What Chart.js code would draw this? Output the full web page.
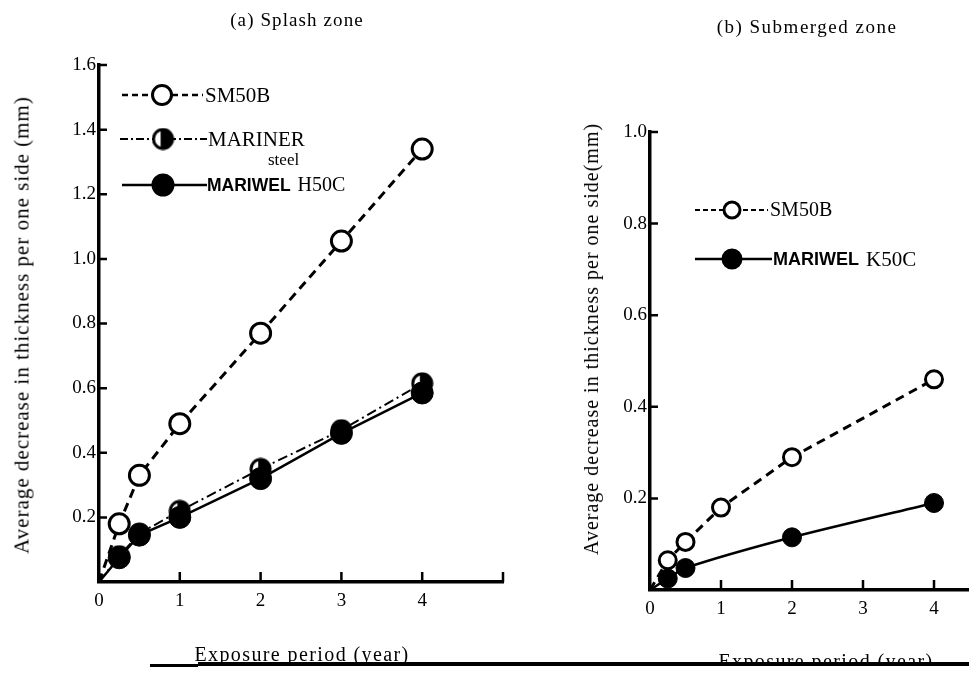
<!DOCTYPE html>
<html>
<head>
<meta charset="utf-8">
<script src="https://cdn.jsdelivr.net/npm/chart.js@4.4.1/dist/chart.umd.min.js"></script>
<style>
  body { margin: 0; background: #fff; width: 969px; height: 676px; position: relative; overflow: hidden; }
  canvas { position: absolute; top: 0; }
  #splash { left: 0; }
  #submerged { left: 560px; }
  .txt { position: absolute; font-family: "Liberation Serif", serif; color: #000; white-space: nowrap; line-height: 1; }
  .title { font-size: 19px; letter-spacing: 1.1px; transform: translateX(-50%); }
  .xt { font-size: 20px; letter-spacing: 1.4px; transform: translateX(-50%); }
  .yt { font-size: 21px; letter-spacing: 1px; transform: translate(-50%, -50%) rotate(-90deg); }
  .rule { position: absolute; background: #000; }
  .cover { position: absolute; background: #fff; }
</style>
</head>
<body>
<canvas id="splash" width="560" height="676"></canvas>
<canvas id="submerged" width="421" height="676"></canvas>
<div class="txt title" style="left:297px; top:10px;">(a) Splash zone</div>
<div class="txt title" style="left:807px; top:17px; letter-spacing:1.5px;">(b) Submerged zone</div>
<div class="txt yt" style="left:22px; top:325px;">Average decrease in thickness per one side (mm)</div>
<div class="txt yt" style="left:591px; top:339px; font-size:20px;">Average decrease in thickness per one side(mm)</div>
<div class="txt xt" style="left:302px; top:644px;">Exposure period (year)</div>
<div class="txt xt" style="left:826px; top:651px;">Exposure period (year)</div>
<div class="cover" style="left:560px; top:664px; width:409px; height:12px;"></div>
<div class="rule" style="left:150px; top:664px; width:48px; height:3px;"></div>
<div class="rule" style="left:198px; top:662px; width:771px; height:4px;"></div>
<script>
// (a) splash zone
const splashYears = [0, 0.25, 0.5, 1, 2, 3, 4];
const splashSM50B = [0, 0.18, 0.33, 0.49, 0.77, 1.055, 1.34];
const splashMariner = [0, 0.08, 0.15, 0.22, 0.35, 0.47, 0.615];
const splashMariwel = [0, 0.075, 0.145, 0.2, 0.32, 0.46, 0.585];
const splashXTicks = [0, 1, 2, 3, 4, 5];
const splashXLabels = ['0', '1', '2', '3', '4', ''];
const splashYTicks = [0, 0.2, 0.4, 0.6, 0.8, 1.0, 1.2, 1.4, 1.6];
const splashYLabels = ['', '0.2', '0.4', '0.6', '0.8', '1.0', '1.2', '1.4', '1.6'];

// (b) submerged zone
const subYears = [0, 0.25, 0.5, 1, 2, 4];
const subSM50B = [0, 0.065, 0.105, 0.18, 0.29, 0.46];
const subMariwelYears = [0, 0.25, 0.5, 2, 4];
const subMariwel = [0, 0.025, 0.048, 0.115, 0.19];
const subXTicks = [0, 1, 2, 3, 4];
const subXLabels = ['0', '1', '2', '3', '4'];
const subYTicks = [0, 0.2, 0.4, 0.6, 0.8, 1.0];
const subYLabels = ['', '0.2', '0.4', '0.6', '0.8', '1.0'];

const serif = '"Liberation Serif", "Times New Roman", serif';
const sans = '"Liberation Sans", Arial, sans-serif';

const pts = (xs, ys) => xs.map((x, i) => ({ x: x, y: ys[i] }));
const radii = (xs, r) => xs.map(x => x === 0 ? 0 : r);

// half white / half black marker for MARINER steel
function halfDot(r) {
  const c = document.createElement('canvas');
  const s = Math.ceil(2 * r + 4);
  c.width = c.height = s;
  const g = c.getContext('2d');
  const m = s / 2;
  g.beginPath(); g.arc(m, m, r, 0, 2 * Math.PI); g.fillStyle = '#fff'; g.fill();
  g.beginPath(); g.arc(m, m, r, -Math.PI / 2 - 0.25, Math.PI / 2 + 0.25); g.closePath();
  g.fillStyle = '#000'; g.fill();
  g.beginPath(); g.arc(m, m, r, 0, 2 * Math.PI); g.lineWidth = 3; g.strokeStyle = '#000'; g.stroke();
  return c;
}
const marinerDot = halfDot(9.5);

function drawMarker(ctx, kind, x, y, r) {
  if (kind === 'half') {
    ctx.drawImage(marinerDot, x - marinerDot.width / 2, y - marinerDot.height / 2);
    return;
  }
  ctx.beginPath();
  ctx.arc(x, y, r, 0, 2 * Math.PI);
  ctx.fillStyle = kind === 'open' ? '#fff' : '#000';
  ctx.fill();
  ctx.lineWidth = 3;
  ctx.strokeStyle = '#000';
  ctx.stroke();
}

// hand drawn key, laid out like the printed figure
function makeKey(items) {
  return {
    id: 'key',
    afterDatasetsDraw(chart) {
      const ctx = chart.ctx;
      items.forEach(it => {
        ctx.save();
        ctx.strokeStyle = '#000';
        ctx.lineWidth = it.lw;
        ctx.setLineDash(it.dash);
        ctx.beginPath(); ctx.moveTo(it.x0, it.y); ctx.lineTo(it.x1, it.y); ctx.stroke();
        ctx.setLineDash([]);
        drawMarker(ctx, it.marker, it.mx, it.y, it.r);
        ctx.fillStyle = '#000';
        ctx.textAlign = 'left';
        ctx.textBaseline = 'middle';
        let x = it.tx;
        it.parts.forEach(p => {
          ctx.font = p.font;
          if (p.at) { ctx.fillText(p.text, p.at[0], p.at[1]); return; }
          ctx.fillText(p.text, x, it.y + 1);
          x += ctx.measureText(p.text).width + 7;
        });
        ctx.restore();
      });
    }
  };
}

// tick marks pointing into the plot, as in the print
const inwardTicks = {
  id: 'inwardTicks',
  afterDraw(chart) {
    const ctx = chart.ctx, a = chart.chartArea;
    const sx = chart.scales.x, sy = chart.scales.y;
    ctx.save();
    ctx.strokeStyle = '#000';
    ctx.lineWidth = 2.5;
    ctx.beginPath();
    sx.ticks.forEach(t => {
      if (t.value === 0) return;
      const px = sx.getPixelForValue(t.value);
      ctx.moveTo(px, a.bottom); ctx.lineTo(px, a.bottom - 10);
    });
    sy.ticks.forEach(t => {
      if (t.value === 0) return;
      const py = sy.getPixelForValue(t.value);
      ctx.moveTo(a.left, py); ctx.lineTo(a.left + 8, py);
    });
    ctx.stroke();
    ctx.restore();
  }
};

function xAxis(ticks, labels, max, height) {
  return {
    type: 'linear', min: 0, max: max,
    afterBuildTicks: s => { s.ticks = ticks.map(v => ({ value: v })); },
    afterFit: s => { s.height = height; },
    border: { color: '#000', width: 3.5 },
    grid: { drawOnChartArea: false, drawTicks: false },
    ticks: { color: '#000', padding: 8, maxRotation: 0, font: { family: serif, size: 19 },
      callback: (v, i) => labels[i] }
  };
}

function yAxis(ticks, labels, max, width) {
  return {
    type: 'linear', min: 0, max: max,
    afterBuildTicks: s => { s.ticks = ticks.map(v => ({ value: v })); },
    afterFit: s => { s.width = width; },
    border: { color: '#000', width: 3.5 },
    grid: { drawOnChartArea: false, drawTicks: false },
    ticks: { color: '#000', padding: 3, font: { family: serif, size: 19 },
      callback: (v, i) => labels[i] }
  };
}

const splashChart = new Chart(document.getElementById('splash'), {
  type: 'line',
  data: {
    datasets: [{
      label: 'SM50B',
      data: pts(splashYears, splashSM50B),
      borderColor: '#000', borderWidth: 3, borderDash: [9, 6],
      pointRadius: radii(splashYears, 10), pointBorderWidth: 3,
      pointBackgroundColor: '#fff', pointBorderColor: '#000',
      order: 0, clip: false
    }, {
      label: 'MARIWEL H50C',
      data: pts(splashYears, splashMariwel),
      borderColor: '#000', borderWidth: 2.5,
      pointRadius: radii(splashYears, 11), pointBorderWidth: 1,
      pointBackgroundColor: '#000', pointBorderColor: '#000',
      order: 1, clip: false
    }, {
      label: 'MARINER steel',
      data: pts(splashYears, splashMariner),
      borderColor: '#000', borderWidth: 2, borderDash: [10, 4, 2, 4],
      pointRadius: radii(splashYears, 10), pointStyle: marinerDot,
      order: 2, clip: false
    }]
  },
  options: {
    responsive: false,
    animation: false,
    layout: { padding: { top: 65, right: 57, left: 0, bottom: 0 } },
    scales: {
      x: xAxis(splashXTicks, splashXLabels, 5, 94),
      y: yAxis(splashYTicks, splashYLabels, 1.6, 99)
    },
    plugins: { legend: { display: false }, tooltip: { enabled: false } }
  },
  plugins: [inwardTicks, makeKey([
    { y: 95, x0: 122, x1: 203, lw: 2.5, dash: [6, 4], marker: 'open', mx: 162, r: 9.5, tx: 205,
      parts: [{ text: 'SM50B', font: '21px ' + serif }] },
    { y: 139, x0: 120, x1: 207, lw: 2, dash: [8, 3, 2, 3], marker: 'half', mx: 163, r: 9.5, tx: 208,
      parts: [{ text: 'MARINER', font: '21px ' + serif },
              { text: 'steel', font: '17px ' + serif, at: [268, 161] }] },
    { y: 185, x0: 122, x1: 207, lw: 2.5, dash: [], marker: 'filled', mx: 163, r: 10, tx: 207,
      parts: [{ text: 'MARIWEL', font: 'bold 17.5px ' + sans },
              { text: 'H50C', font: '20px ' + serif }] }
  ])]
});

const subChart = new Chart(document.getElementById('submerged'), {
  type: 'line',
  data: {
    datasets: [{
      label: 'SM50B',
      data: pts(subYears, subSM50B),
      borderColor: '#000', borderWidth: 3, borderDash: [9, 6],
      pointRadius: radii(subYears, 8.5), pointBorderWidth: 3,
      pointBackgroundColor: '#fff', pointBorderColor: '#000',
      order: 0, clip: false
    }, {
      label: 'MARIWEL K50C',
      data: pts(subMariwelYears, subMariwel),
      borderColor: '#000', borderWidth: 2.5, tension: 0.25,
      pointRadius: radii(subMariwelYears, 9.5), pointBorderWidth: 1,
      pointBackgroundColor: '#000', pointBorderColor: '#000',
      order: 1, clip: false
    }]
  },
  options: {
    responsive: false,
    animation: false,
    layout: { padding: { top: 132, right: 0, left: 0, bottom: 0 } },
    scales: {
      x: xAxis(subXTicks, subXLabels, 4.5, 86),
      y: yAxis(subYTicks, subYLabels, 1.0, 90)
    },
    plugins: { legend: { display: false }, tooltip: { enabled: false } }
  },
  plugins: [inwardTicks, makeKey([
    { y: 210, x0: 135, x1: 208, lw: 2, dash: [5, 3], marker: 'open', mx: 172, r: 8, tx: 210,
      parts: [{ text: 'SM50B', font: '20px ' + serif }] },
    { y: 259, x0: 135, x1: 212, lw: 2.5, dash: [], marker: 'filled', mx: 172, r: 9, tx: 213,
      parts: [{ text: 'MARIWEL', font: 'bold 18px ' + sans },
              { text: 'K50C', font: '21px ' + serif }] }
  ])]
});
</script>
</body>
</html>
